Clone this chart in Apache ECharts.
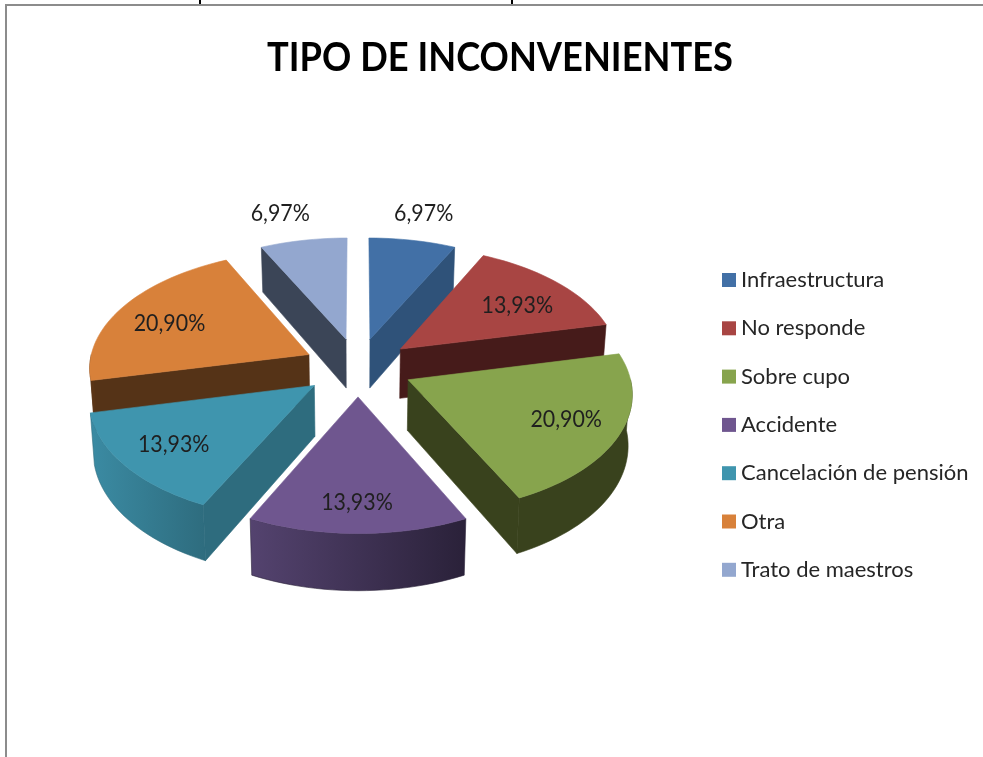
<!DOCTYPE html>
<html>
<head>
<meta charset="utf-8">
<style>html,body{margin:0;padding:0;background:#fff}#c{width:983px;height:757px}</style>
<script src="https://cdn.jsdelivr.net/npm/echarts@6/dist/echarts.min.js"></script>
</head>
<body>
<div id="c"></div>
<script>
const categories = ['Infraestructura','No responde','Sobre cupo','Accidente','Cancelación de pensión','Otra','Trato de maestros'];
const values = [6.97,13.93,20.90,13.93,13.93,20.90,6.97];
const valueLabels = ['6,97%','13,93%','20,90%','13,93%','13,93%','20,90%','6,97%'];
const topColors = ['#4270a6','#a84543','#87a44d','#6f568f','#3f95ae','#d8813a','#93a7cf'];
const wallColors = ['#2f5279','#461b1a','#39421d','#3f2f55','#2e6c7e','#553317','#3b4557'];
const rimFrom = ['#2f5279','#461b1a','#39421d','#54436f','#3b8ba3','#5a3517','#3b4557'];
const rimTo = ['#2f5279','#461b1a','#39421d','#2a2139','#2e6c7e','#5a3517','#3b4557'];
const labelFrac = [1.32,0.72,0.75,0.79,0.78,0.72,1.32];
const labelNudgeX = [-1,2,1,-1,5,-4,-11];
const labelNudgeY = [1,5,0,0,-2,4,1];
const paintOrder = [0,6,1,5,2,4,3];

const cx = 358, cy = 367, R = 220, tilt = 0.53, persp = 0.1, explode = 55, depth = 50, baseShrink = 0.985;
const total = values.reduce((a,b)=>a+b,0);
const starts = [];
values.reduce((acc,v,i)=>{starts[i]=acc;return acc+v/total*360;},0);
const rad = d => d*Math.PI/180;

function project(X,Y,low){
  const w = 1/(1-persp*Y/R);
  return [cx+X*w*(low?baseShrink:1), cy+tilt*Y*w+(low?depth*w:0)];
}
function slicePoint(i,theta,r,low){
  const a0 = starts[i], a1 = a0+values[i]/total*360, bis = (a0+a1)/2;
  const X = explode*Math.sin(rad(bis))+r*Math.sin(rad(theta));
  const Y = -explode*Math.cos(rad(bis))-r*Math.cos(rad(theta));
  return project(X,Y,low);
}
function arc(i,a,b,low){
  const pts=[]; const n=Math.max(2,Math.ceil((b-a)/2));
  for(let k=0;k<=n;k++) pts.push(slicePoint(i,a+(b-a)*k/n,R,low));
  return pts;
}
function poly(points,fill,z2,stroke){
  return {type:'polygon',shape:{points},style:{fill,stroke:stroke||fill,lineWidth:0.6},z2:z2||0,silent:true};
}
function renderSlice(i){
  return function(params,api){
    const v = api.value(0);
    const a0 = starts[i], a1 = a0+v/total*360, bis=(a0+a1)/2;
    const kids=[];
    const wallFor = th => poly([slicePoint(i,th,0,false),slicePoint(i,th,R,false),slicePoint(i,th,R,true),slicePoint(i,th,0,true)],wallColors[i],1);
    if(Math.sin(rad(a0))<0) kids.push(wallFor(a0));
    if(Math.sin(rad(a1))>0) kids.push(wallFor(a1));
    const ra=Math.max(a0,90), rb=Math.min(a1,270);
    if(rb>ra){
      const g = new echarts.graphic.LinearGradient(0,0,1,0,[{offset:0,color:rimFrom[i]},{offset:1,color:rimTo[i]}]);
      kids.push(poly(arc(i,ra,rb,false).concat(arc(i,ra,rb,true).reverse()),g,2,rimTo[i]));
    }
    kids.push(poly([slicePoint(i,a0,0,false)].concat(arc(i,a0,a1,false)),topColors[i],3));
    const lp = slicePoint(i,bis,R*labelFrac[i],false);
    kids.push({type:'text',x:lp[0]+labelNudgeX[i],y:lp[1]+labelNudgeY[i],scaleX:0.93,z2:5,silent:true,style:{text:valueLabels[i],fill:'#1f1f1f',font:'23px Lato',align:'center',verticalAlign:'middle'}});
    return {type:'group',children:kids};
  };
}

const chart = echarts.init(document.getElementById('c'),null,{renderer:'canvas'});
chart.setOption({
  animation:false,
  backgroundColor:'#fff',
  color:topColors,
  legend:{
    orient:'vertical',left:717,top:264,icon:'rect',itemWidth:14,itemHeight:14,itemGap:26.3,
    data:categories,selectedMode:false,
    textStyle:{fontFamily:'Lato',fontSize:22,color:'#262626',lineHeight:22,padding:[0,0,0,0]}
  },
  graphic:[
    {type:'rect',shape:{x:5,y:4,width:2,height:753},style:{fill:'#8c8c8c'},silent:true},
    {type:'rect',shape:{x:5,y:4,width:978,height:2},style:{fill:'#8c8c8c'},silent:true},
    {type:'rect',shape:{x:199,y:0,width:2,height:4},style:{fill:'#000'},silent:true},
    {type:'rect',shape:{x:511,y:0,width:2,height:4},style:{fill:'#000'},silent:true},
    {type:'text',x:500,y:58,scaleX:0.885,style:{text:'TIPO DE INCONVENIENTES',fill:'#000',font:'bold 41px Lato',align:'center',verticalAlign:'middle'},silent:true}
  ],
  series:paintOrder.map(i=>({
    type:'custom',name:categories[i],coordinateSystem:'none',
    data:[[values[i]]],encode:{value:0},
    itemStyle:{color:topColors[i]},
    renderItem:renderSlice(i)
  }))
});
</script>
</body>
</html>
